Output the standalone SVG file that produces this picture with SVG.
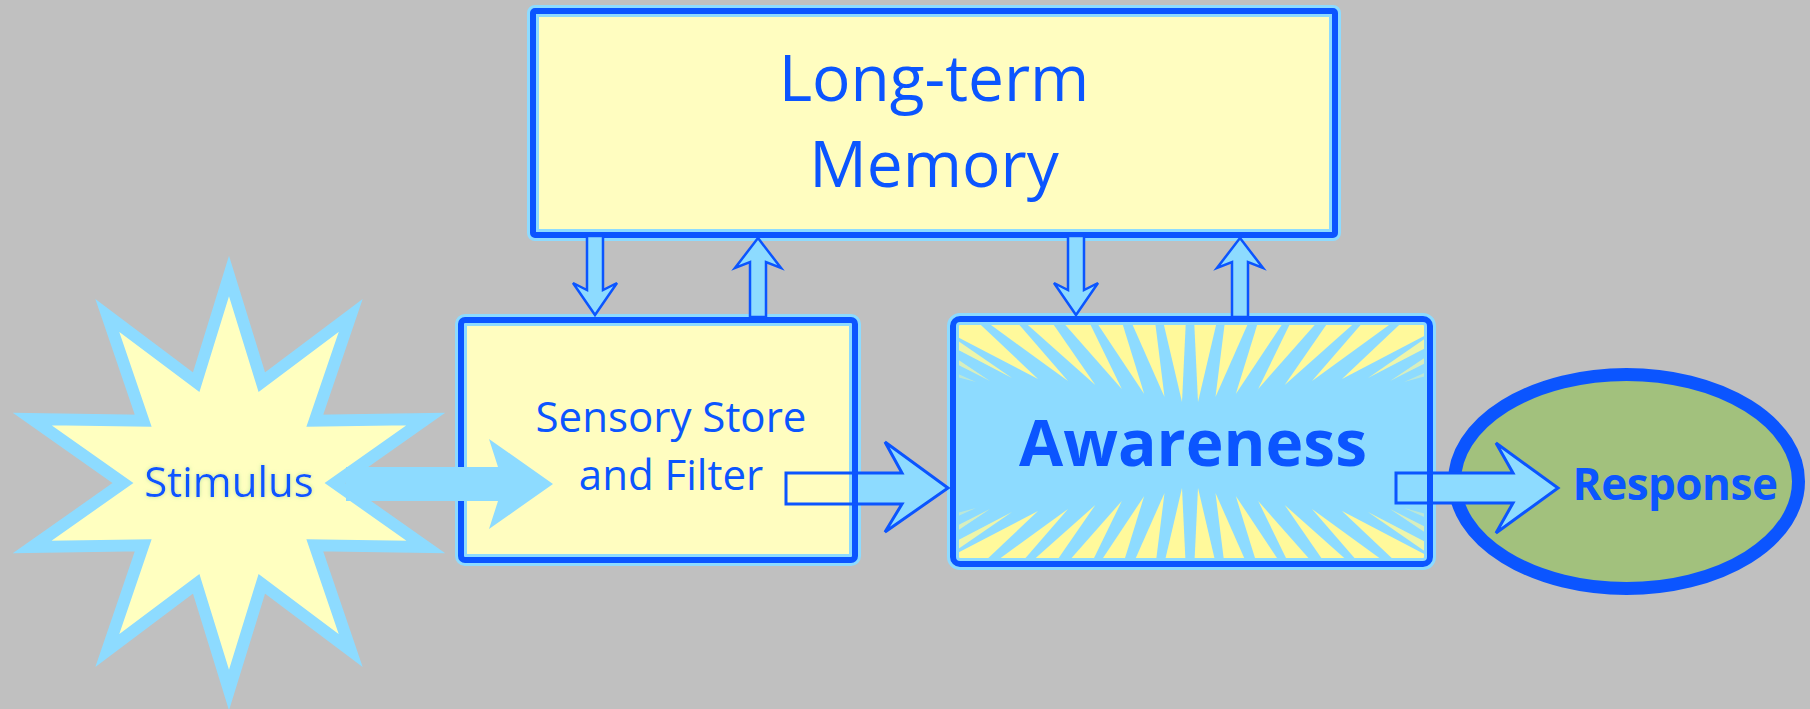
<svg xmlns="http://www.w3.org/2000/svg" width="1810" height="709" viewBox="0 0 1810 709">
<defs>
<style>
.glow{fill:none;stroke:#8ddbff;stroke-width:12}
.edge{fill:none;stroke:#0b55ff;stroke-width:6}
.txt{font-family:"Open Sans","Liberation Sans",sans-serif;fill:#0b55ff}
.ray{fill:#fff99b}
.afill{fill:#8ddbff;stroke:none}
.aline{fill:none;stroke:#0b55ff;stroke-width:3;stroke-linejoin:miter}
.vconn{fill:#8ddbff;stroke:#0b55ff;stroke-width:2.5;stroke-linejoin:miter}
</style>
<filter id="tglow" x="-10%" y="-30%" width="120%" height="160%">
<feGaussianBlur in="SourceAlpha" stdDeviation="2" result="b"/>
<feFlood flood-color="#b9e49c" flood-opacity="0.9"/>
<feComposite in2="b" operator="in" result="g"/>
<feMerge><feMergeNode in="g"/><feMergeNode in="SourceGraphic"/></feMerge>
</filter>
<clipPath id="awclip"><rect x="956" y="322" width="471" height="239" rx="5"/></clipPath>
<g id="rays-q">
<polygon class="ray" points="1162.3,318 1186,318 1182,402"/>
<polygon class="ray" points="1129.6,318 1154.6,318 1164.5,397"/>
<polygon class="ray" points="1093.7,318 1120.7,318 1144.2,394"/>
<polygon class="ray" points="1059.2,318 1087.2,318 1121.8,389"/>
<polygon class="ray" points="1020,318 1049,318 1095.3,385"/>
<polygon class="ray" points="981.4,318 1013.4,318 1068,381"/>
<polygon class="ray" points="948,318 973.5,318 1038,379 948,332"/>
<polygon class="ray" points="948,333.9 948,344.6 1012,378" opacity="0.85"/>
<polygon class="ray" points="948,352.9 948,359.6 990,381" opacity="0.65"/>
<polygon class="ray" points="948,369.5 948,374.5 976,382" opacity="0.4"/>
</g>
</defs>
<rect width="1810" height="709" fill="#c0c0c0"/>

<g id="stimulus">
<path d="M229,276 L261.8,382.2 L350.7,315.5 L314.8,420.7 L425.9,419 L335,483 L425.9,547 L314.8,545.3 L350.7,650.5 L261.8,583.8 L229,690 L196.2,583.8 L107.3,650.5 L143.2,545.3 L32.1,547 L123,483 L32.1,419 L143.2,420.7 L107.3,315.5 L196.2,382.2 Z" fill="#ffffc0" stroke="#8ddbff" stroke-width="12" stroke-linejoin="miter" stroke-miterlimit="4"/>
<text class="txt" x="229" y="497" font-size="42" text-anchor="middle" filter="url(#tglow)">Stimulus</text>
</g>

<g id="long-term-memory">
<rect x="533" y="11" width="802" height="224" rx="2" fill="#fffdc0"/>
<rect class="glow" x="533" y="11" width="802" height="224" rx="2"/>
<rect class="edge" x="533" y="11" width="802" height="224" rx="2"/>
<text class="txt" x="934" y="101" font-size="64" text-anchor="middle">Long-term</text>
<text class="txt" x="934" y="187" font-size="64" text-anchor="middle">Memory</text>
</g>

<g id="sensory-store">
<rect x="461" y="320" width="394" height="240" rx="4" fill="#fffdc0"/>
<rect class="glow" x="461" y="320" width="394" height="240" rx="4"/>
<rect class="edge" x="461" y="320" width="394" height="240" rx="4"/>
<text class="txt" x="671" y="432" font-size="42" text-anchor="middle">Sensory Store</text>
<text class="txt" x="671" y="490" font-size="42" text-anchor="middle">and Filter</text>
</g>

<g id="awareness">
<rect x="953" y="319" width="477" height="245" rx="7" fill="#8ddbff"/>
<g clip-path="url(#awclip)">
<use href="#rays-q"/>
<use href="#rays-q" transform="translate(2380,0) scale(-1,1)"/>
<use href="#rays-q" transform="translate(0,890) scale(1,-1)"/>
<use href="#rays-q" transform="translate(2380,890) scale(-1,-1)"/>
</g>
<rect class="glow" x="953" y="319" width="477" height="245" rx="7" stroke-width="10"/>
<rect class="edge" x="953" y="319" width="477" height="245" rx="7"/>
<text class="txt" x="1193" y="466" font-size="64" font-weight="bold" text-anchor="middle">Awareness</text>
</g>

<g id="response">
<ellipse cx="1626.5" cy="481.5" rx="172" ry="107" fill="#a2c17d" stroke="#0b55ff" stroke-width="13"/>
<text class="txt" x="1675" y="500" font-size="44" font-weight="bold" text-anchor="middle" letter-spacing="-0.5">Response</text>
</g>

<g id="connectors">
<polygon class="afill" points="346,467 498,467 489,439 553,484 489,529 498,501 346,501"/>
<polygon class="afill" points="858,473 902,473 885,442 948,488 885,532 902,504 858,504"/>
<polygon class="aline" points="786,473 902,473 885,442 948,488 885,532 902,504 786,504"/>
<polygon class="afill" points="1433,473 1513,473 1496,443 1558,488 1496,533 1513,503 1433,503"/>
<polygon class="aline" points="1396,473 1513,473 1496,443 1558,488 1496,533 1513,503 1396,503"/>
<polygon class="vconn" points="587,236 603,236 603,290 617,283 595,315 573,283 587,290"/>
<polygon class="vconn" points="758,238 781,268 766,262 766,317 750,317 750,262 735,268"/>
<polygon class="vconn" points="1068,236 1084,236 1084,290 1098,283 1076,315 1054,283 1068,290"/>
<polygon class="vconn" points="1240,238 1263,268 1248,262 1248,317 1232,317 1232,262 1217,268"/>
</g>
</svg>
